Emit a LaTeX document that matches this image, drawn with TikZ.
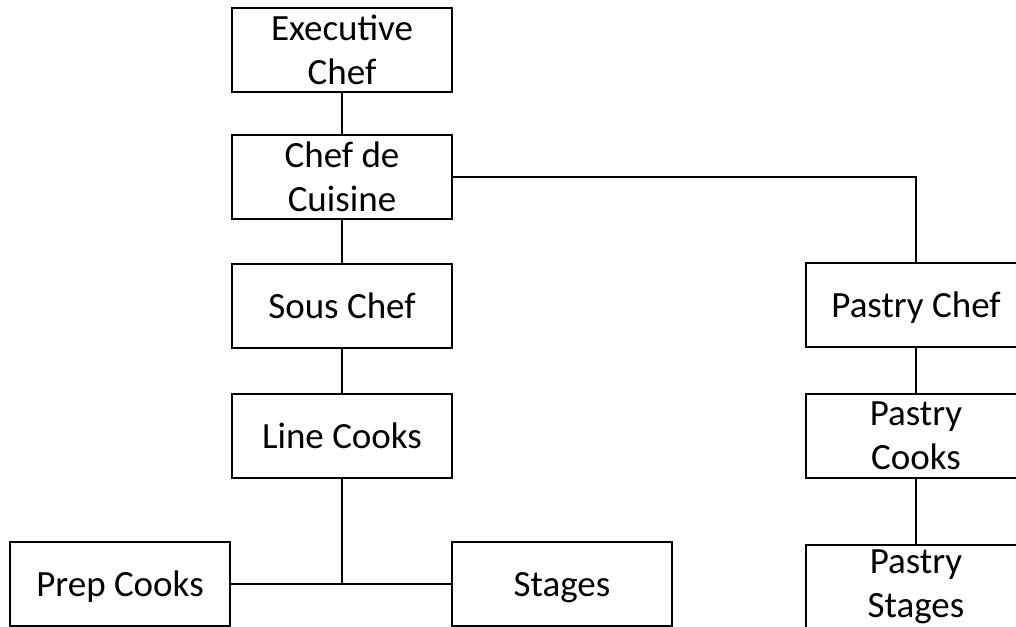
\documentclass[tikz,border=0pt]{standalone}
\usepackage{fontspec}
\setmainfont{Carlito}
\begin{document}
\begin{tikzpicture}[x=1pt,y=-1pt,
  box/.style={draw=black,line width=1.4pt,minimum width=220pt,minimum height=84pt,
    inner sep=0pt,align=center,font=\fontsize{37}{44}\selectfont},
  onebox/.style={box,text height=25pt,text depth=1pt},
  link/.style={draw=black,line width=1.4pt}]
\clip (0,0) rectangle (1016,626);
\useasboundingbox (0,0) rectangle (1016,626);
\node[box] (exec) at (342,50) {Executive\\Chef};
\node[box] (cdc) at (342,177) {Chef de\\Cuisine};
\node[onebox] (sous) at (342,306) {Sous Chef};
\node[onebox] (line) at (342,436) {Line Cooks};
\node[onebox] (prep) at (120,584) {Prep Cooks};
\node[onebox] (stages) at (562,584) {Stages};
\node[onebox] (pchef) at (916,305) {Pastry Chef};
\node[box] (pcooks) at (916,436) {Pastry\\Cooks};
\node[box] (pstages) at (916,587) {Pastry\\Stages};
\coordinate (j) at (line.south |- prep.east);
\draw[link] (exec) -- (cdc);
\draw[link] (cdc) -- (sous);
\draw[link] (sous) -- (line);
\draw[link] (line.south) -- (j);
\draw[link] (prep.east) -- (stages.west);
\draw[link] (cdc.east) -| (pchef.north);
\draw[link] (pchef) -- (pcooks);
\draw[link] (pcooks) -- (pstages);
\end{tikzpicture}
\end{document}
